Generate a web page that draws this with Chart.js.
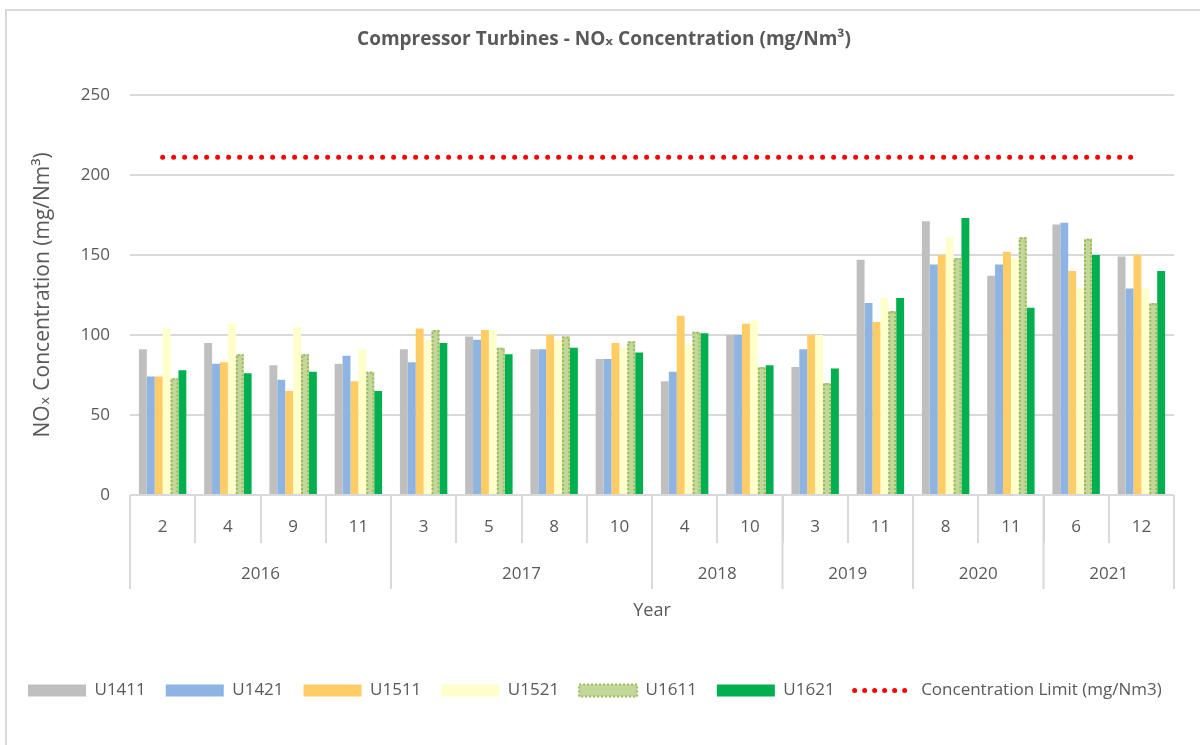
<!DOCTYPE html>
<html>
<head>
<meta charset="utf-8">
<title>Compressor Turbines - NOx Concentration</title>
<script src="https://cdn.jsdelivr.net/npm/chart.js@4.4.0/dist/chart.umd.min.js"></script>
<style>
  html, body { margin: 0; padding: 0; background: #ffffff; }
  #wrap { position: relative; width: 1200px; height: 745px; }
</style>
</head>
<body>
<div id="wrap"><canvas id="noxChart" width="1200" height="745"></canvas></div>
<script>

// --------------------------------------------------------------------------
//                                  data
// --------------------------------------------------------------------------

const months = ['2', '4', '9', '11', '3', '5', '8', '10', '4', '10', '3', '11', '8', '11', '6', '12'];
const years = ['2016', '2017', '2018', '2019', '2020', '2021'];
const monthsPerYear = [4, 4, 2, 2, 2, 2];

const u1411 = [91, 95, 81, 82, 91, 99, 91, 85, 71, 100, 80, 147, 171, 137, 169, 149];
const u1421 = [74, 82, 72, 87, 83, 97, 91, 85, 77, 100, 91, 120, 144, 144, 170, 129];
const u1511 = [74, 83, 65, 71, 104, 103, 100, 95, 112, 107, 100, 108, 150, 152, 140, 150];
const u1521 = [104, 107, 105, 91, 97, 103, 97, 92, 94, 109, 100, 123, 161, 148, 129, 129];
const u1611 = [73, 88, 88, 77, 103, 92, 99, 96, 102, 80, 70, 115, 148, 161, 160, 120];
const u1621 = [78, 76, 77, 65, 95, 88, 92, 89, 101, 81, 79, 123, 173, 117, 150, 140];
const concentrationLimit = [211, 211, 211, 211, 211, 211, 211, 211, 211, 211, 211, 211, 211, 211, 211, 211];

const yTicks = [0, 50, 100, 150, 200, 250];

const textColor = '#595959';
const gridColor = '#d9d9d9';
Chart.defaults.font.family = "'Open Sans', 'DejaVu Sans', sans-serif";

// --------------------------------------------------------------------------
//                                 plugins
// --------------------------------------------------------------------------

// light frame round the chart, like the spreadsheet chart box
const chartFrame = {
    id: 'chartFrame',
    beforeDraw(chart) {
        const ctx = chart.ctx;
        ctx.save();
        ctx.fillStyle = '#ffffff';
        ctx.fillRect(0, 0, chart.width, chart.height);
        ctx.strokeStyle = gridColor;
        ctx.lineWidth = 2;
        ctx.strokeRect(6, 10, chart.width + 20, chart.height + 20);
        ctx.restore();
    }
};

// second label row with the years, plus the longer separators
const yearRow = {
    id: 'yearRow',
    afterDraw(chart) {
        const xScale = chart.scales.x;
        const ctx = chart.ctx;
        const top = xScale.top;
        ctx.save();
        ctx.strokeStyle = gridColor;
        ctx.lineWidth = 2;
        ctx.fillStyle = textColor;
        ctx.font = "17px 'Open Sans', sans-serif";
        ctx.textAlign = 'center';
        ctx.textBaseline = 'middle';
        let start = 0;
        years.forEach((year, i) => {
            const end = start + monthsPerYear[i];
            const left = xScale.getPixelForValue(start - 0.5);
            const right = xScale.getPixelForValue(end - 0.5);
            ctx.beginPath();
            ctx.moveTo(left, top);
            ctx.lineTo(left, top + 94);
            if (i === years.length - 1) {
                ctx.moveTo(right, top);
                ctx.lineTo(right, top + 94);
            }
            ctx.stroke();
            ctx.fillText(year, (left + right) / 2, top + 79);
            start = end;
        });
        ctx.restore();
    }
};

// dotted olive outline on the U1611 bars
const dottedOutline = {
    id: 'dottedOutline',
    afterDatasetsDraw(chart) {
        const meta = chart.getDatasetMeta(4);
        if (meta.hidden) return;
        const ctx = chart.ctx;
        ctx.save();
        ctx.strokeStyle = '#9bbb59';
        ctx.lineWidth = 2;
        ctx.setLineDash([2, 2]);
        meta.data.forEach(bar => {
            const {x, y, base, width} = bar.getProps(['x', 'y', 'base', 'width'], true);
            const l = x - width / 2 + 1;
            const r = x + width / 2 - 1;
            ctx.beginPath();
            ctx.moveTo(l, base);
            ctx.lineTo(l, y + 1);
            ctx.lineTo(r, y + 1);
            ctx.lineTo(r, base);
            ctx.stroke();
        });
        ctx.restore();
    }
};

// --------------------------------------------------------------------------
//                                  chart
// --------------------------------------------------------------------------

function barSet(label, data, color) {
    return {
        label: label,
        data: data,
        backgroundColor: color,
        borderWidth: 0,
        categoryPercentage: 0.727,
        barPercentage: 1.0
    };
}

const chartData = {
    labels: months,
    datasets: [
        barSet('U1411', u1411, '#bfbfbf'),
        barSet('U1421', u1421, '#8eb4e3'),
        barSet('U1511', u1511, '#ffcc66'),
        barSet('U1521', u1521, '#ffffcc'),
        barSet('U1611', u1611, '#c4d79b'),
        barSet('U1621', u1621, '#00b050'),
        {
            type: 'line',
            label: 'Concentration Limit (mg/Nm3)',
            data: concentrationLimit,
            borderColor: '#ff0000',
            backgroundColor: '#ff0000',
            borderWidth: 5,
            borderDash: [0, 11],
            borderCapStyle: 'round',
            pointRadius: 0,
            fill: false
        }
    ]
};

const options = {
    responsive: false,
    animation: false,
    layout: { padding: { left: 8, right: 0, top: 0, bottom: 36 } },
    scales: {
        x: {
            grid: {
                display: true,
                drawOnChartArea: false,
                drawTicks: true,
                tickLength: 48,
                color: gridColor,
                lineWidth: 2,
                offset: true
            },
            border: { display: false },
            ticks: {
                color: textColor,
                font: { size: 17 },
                padding: -26,
                maxRotation: 0,
                autoSkip: false
            },
            title: {
                display: true,
                text: 'Year',
                color: textColor,
                font: { size: 18 },
                padding: { top: 0, bottom: 40 }
            },
            afterFit(scale) { scale.height = 167; }
        },
        y: {
            min: 0,
            max: 250,
            afterBuildTicks(scale) { scale.ticks = yTicks.map(v => ({ value: v })); },
            grid: { color: gridColor, lineWidth: 2, drawTicks: false },
            border: { display: false },
            ticks: { color: textColor, font: { size: 17 }, padding: 20 },
            title: {
                display: true,
                text: 'NOₓ Concentration (mg/Nm³)',
                color: textColor,
                font: { size: 21 },
                padding: { top: 22, bottom: 0 }
            },
            afterFit(scale) { scale.width = 122; }
        },
        // empty strip on the right so the plot ends short of the frame
        yRight: {
            type: 'linear',
            position: 'right',
            display: true,
            grid: { display: false },
            border: { display: false },
            ticks: { display: false },
            afterFit(scale) { scale.width = 26; }
        }
    },
    plugins: {
        title: {
            display: true,
            text: 'Compressor Turbines - NOₓ Concentration (mg/Nm³)',
            color: textColor,
            font: { size: 19, weight: 'bold' },
            padding: { top: 28, bottom: 44 }
        },
        legend: {
            position: 'bottom',
            align: 'start',
            labels: {
                usePointStyle: true,
                pointStyleWidth: 58,
                boxHeight: 12,
                padding: 20,
                color: textColor,
                font: { size: 17 },
                generateLabels(chart) {
                    const items = Chart.defaults.plugins.legend.labels.generateLabels(chart);
                    items.forEach(item => {
                        const ds = chart.data.datasets[item.datasetIndex];
                        if (ds.type === 'line') {
                            item.pointStyle = 'line';
                            item.strokeStyle = ds.borderColor;
                            item.lineWidth = 5;
                            item.lineDash = [0, 10];
                            item.lineCap = 'round';
                        } else if (ds.label === 'U1611') {
                            item.pointStyle = 'rect';
                            item.fillStyle = ds.backgroundColor;
                            item.strokeStyle = '#9bbb59';
                            item.lineWidth = 2;
                            item.lineDash = [2, 2];
                        } else {
                            item.pointStyle = 'rect';
                            item.fillStyle = ds.backgroundColor;
                            item.lineWidth = 0;
                        }
                    });
                    return items;
                }
            }
        },
        tooltip: { enabled: false }
    }
};

const ctx = document.getElementById('noxChart').getContext('2d');
window.noxChart = new Chart(ctx, {
    type: 'bar',
    data: chartData,
    options: options,
    plugins: [chartFrame, yearRow, dottedOutline]
});

</script>
</body>
</html>
